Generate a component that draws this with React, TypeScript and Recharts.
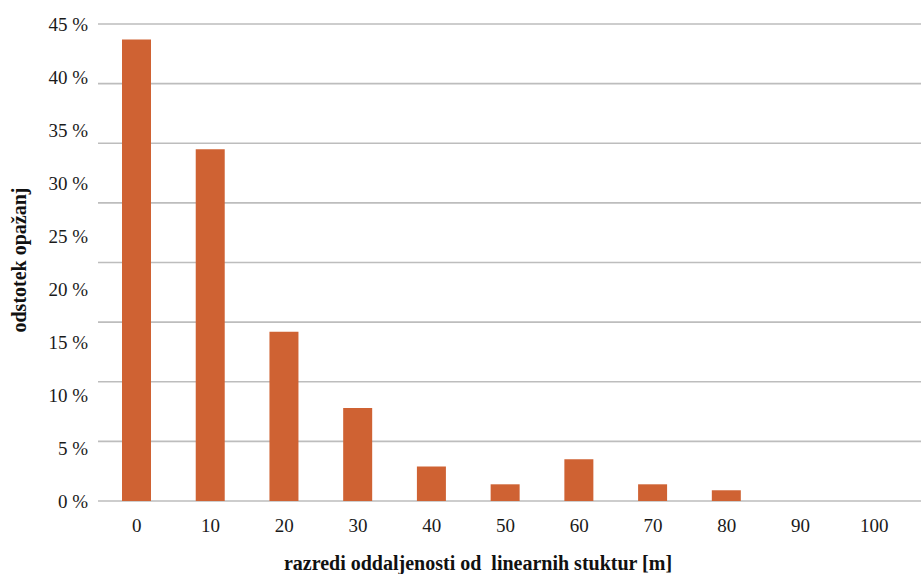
import React from "react";
import { ComposedChart, Bar, Line, XAxis, YAxis, CartesianGrid } from "recharts";

const categories = ["0", "10", "20", "30", "40", "50", "60", "70", "80", "90", "100"];
const shares = [38.7, 29.5, 14.2, 7.8, 2.9, 1.4, 3.5, 1.4, 0.9, 0, 0];
const gridTicks = [0, 5, 10, 15, 20, 25, 30, 35, 40];
const labelTicks = [0, 5, 10, 15, 20, 25, 30, 35, 40, 45];

const data = categories.map((c, i) => ({ cat: c, value: shares[i] }));

const FONT = "'Liberation Serif', 'DejaVu Serif', serif";

export default function App() {
  return (
    <div style={{ position: "absolute", left: 0, top: 0, background: "#fff" }}>
      <ComposedChart
        width={921}
        height={574}
        data={data}
        margin={{ top: 24, right: 0, bottom: 0, left: 0 }}
      >
        <CartesianGrid
          yAxisId="grid"
          vertical={false}
          stroke="#bdbdbd"
          strokeWidth={1.6}
        />
        <XAxis
          dataKey="cat"
          height={73}
          axisLine={false}
          tickLine={false}
          tickSize={0}
          tickMargin={18}
          padding={{ left: 2, right: 10 }}
          interval={0}
          tick={{ fontSize: 19, fill: "#1a1a1a", fontFamily: FONT }}
          label={{
            content: () => (
              <text
                x={478}
                y={570}
                textAnchor="middle"
                fontFamily={FONT}
                fontWeight="bold"
                fontSize={20}
                fill="#111"
              >
                {"razredi oddaljenosti od\u00a0 linearnih stuktur [m]"}
              </text>
            ),
          }}
        />
        <YAxis
          yAxisId="labels"
          domain={[0, 45]}
          ticks={labelTicks}
          width={98}
          axisLine={false}
          tickLine={false}
          tickSize={0}
          tickMargin={10}
          interval={0}
          tickFormatter={(v: number) => `${v} %`}
          tick={{ fontSize: 19, fill: "#1a1a1a", fontFamily: FONT }}
          label={{
            content: () => (
              <text
                x={26}
                y={260}
                transform="rotate(-90, 26, 260)"
                textAnchor="middle"
                fontFamily={FONT}
                fontWeight="bold"
                fontSize={20}
                fill="#111"
              >
                odstotek opažanj
              </text>
            ),
          }}
        />
        <YAxis
          yAxisId="grid"
          orientation="right"
          width={0}
          domain={[0, 40]}
          ticks={gridTicks}
          hide
        />
        <Bar
          yAxisId="grid"
          dataKey="value"
          fill="#cf6233"
          barSize={29}
          isAnimationActive={false}
        />
        <Line
          yAxisId="labels"
          dataKey="value"
          stroke="transparent"
          dot={false}
          activeDot={false}
          legendType="none"
          isAnimationActive={false}
        />
      </ComposedChart>
    </div>
  );
}
